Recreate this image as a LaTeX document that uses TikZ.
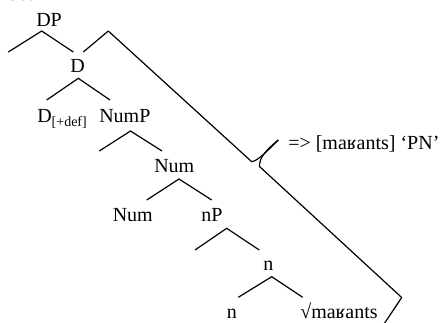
\documentclass[tikz,border=0pt]{standalone}
\usepackage{fontspec}
\setmainfont{Liberation Serif}
\begin{document}
\begin{tikzpicture}[x=0.75pt,y=-0.75pt,
  lbl/.style={inner sep=0pt, anchor=base west, font=\fontsize{15}{18}\selectfont},
  branch/.style={line width=0.9pt},
  brace/.style={line width=0.9pt, line join=round}]
\useasboundingbox (0,0) rectangle (448,322);

% example number (top edge)
\node[lbl] (num) at (8,0.8) {30.};

% tree labels
\node[lbl] (dp)   at (36,26)  {DP};
\node[lbl] (d)    at (70,72)  {D};
\node[lbl] (ddef) at (37,122) {D\raisebox{-3pt}{\fontsize{10.5}{12}\selectfont[+def]}};
\node[lbl] (nump) at (99,122) {NumP};
\node[lbl] (numb) at (154,172) {Num};
\node[lbl] (numh) at (112.5,221) {Num};
\node[lbl] (np)   at (201,221) {nP};
\node[lbl] (nb)   at (263,270) {n};
\node[lbl] (nh)   at (226.5,318) {n};
\node[lbl] (root) at (300,318) {√maʁants};
\node[lbl] (out)  at (288,149) {=> [maʁants] ‘PN’};

% branch points
\coordinate (dpA) at (41.7,31);   \coordinate (dpL) at (8.3,52);    \coordinate (dpR) at (73.3,52);
\coordinate (dA)  at (78.3,78.3); \coordinate (dL)  at (46.7,100);  \coordinate (dR)  at (110,100);
\coordinate (npA) at (130.5,131); \coordinate (npL) at (99.3,151);  \coordinate (npR) at (162,151);
\coordinate (nmA) at (179,179);   \coordinate (nmL) at (146.7,200); \coordinate (nmR) at (211.7,200);
\coordinate (pA)  at (226.7,228.3); \coordinate (pL) at (195,250);  \coordinate (pR)  at (259.3,250);
\coordinate (nA)  at (271.7,276.7); \coordinate (nL) at (238.3,297.3); \coordinate (nR) at (302.7,297.3);

\foreach \a/\l/\r in {dp/dp,d/d,np/np,nm/nm,p/p,n/n}{
  \draw[branch] (\l L) -- (\a A) -- (\r R);
}

% brace over the spelled-out span
\coordinate (b1) at (83.3,52);
\coordinate (b2) at (108.3,31);
\coordinate (b3) at (251.7,161.7);
\coordinate (tip) at (278.3,140);
\coordinate (b4) at (259.5,166.5);
\coordinate (b5) at (401.7,297.5);
\coordinate (b6) at (384,324);
\draw[brace] (b1) -- (b2) -- (b3) .. controls (258,161) and (268,150) .. (tip);
\draw[brace] (tip) .. controls (266,150) and (259,158) .. (b4) -- (b5) -- (b6);
\end{tikzpicture}
\end{document}
